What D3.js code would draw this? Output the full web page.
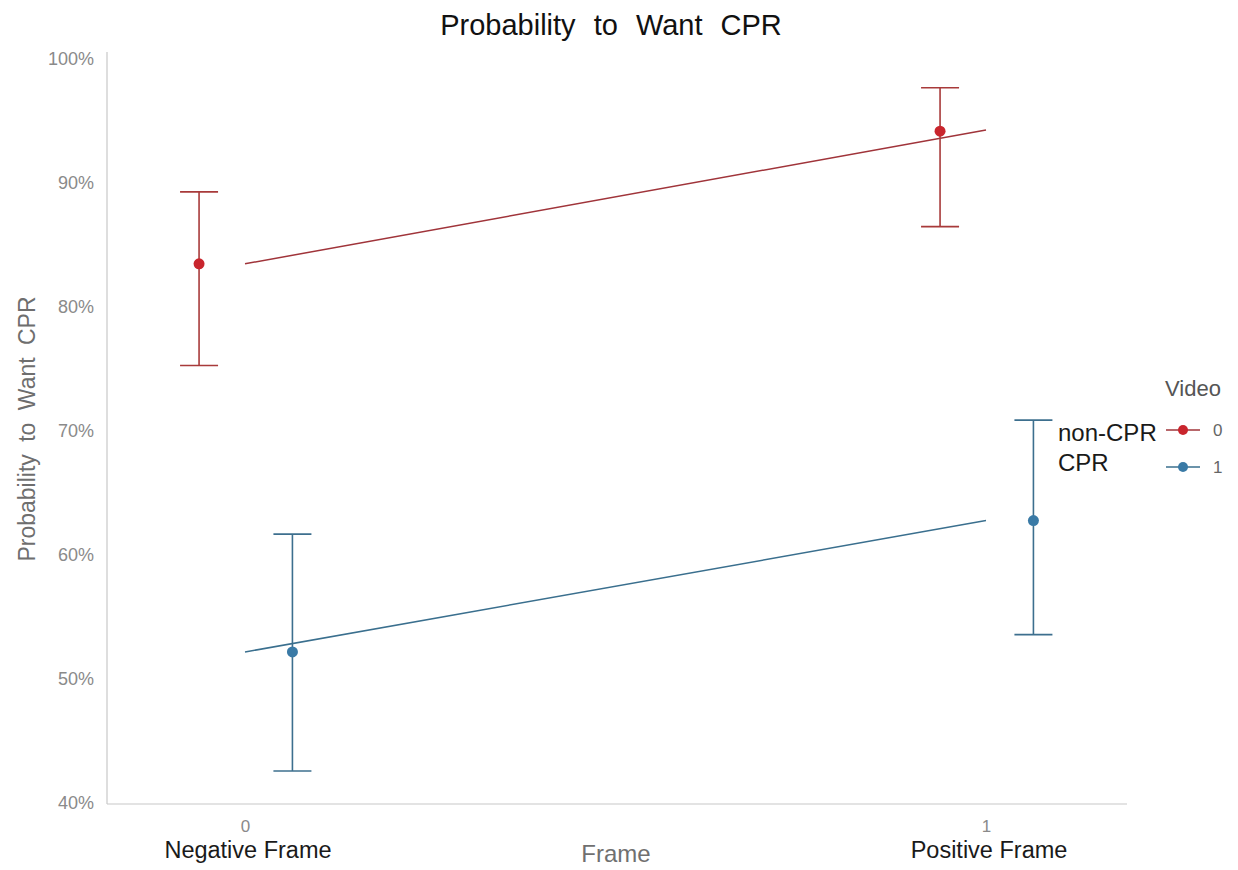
<!DOCTYPE html>
<html>
<head>
<meta charset="utf-8">
<script src="https://cdn.jsdelivr.net/npm/d3@7"></script>
<style>
  body { margin: 0; background: #fff; }
  text { font-family: "Liberation Sans", Arial, sans-serif; }
</style>
</head>
<body>
<svg id="chart" width="1238" height="870"></svg>
<script>
// ---- data ----
const frames = [0, 1];
const frameLabels = ["Negative Frame", "Positive Frame"];
const videos = ["0", "1"];
const videoLabels = ["non-CPR", "CPR"];
const estNonCPR = [0.834, 0.941];
const lowNonCPR = [0.752, 0.864];
const highNonCPR = [0.892, 0.976];
const estCPR = [0.521, 0.627];
const lowCPR = [0.425, 0.535];
const highCPR = [0.616, 0.708];
const lineNonCPR = [0.834, 0.942];
const lineCPR = [0.521, 0.627];
const yTicks = [0.4, 0.5, 0.6, 0.7, 0.8, 0.9, 1.0];

const series = [
  { key: videos[0], est: estNonCPR, lo: lowNonCPR, hi: highNonCPR, line: lineNonCPR, dodge: -0.062, pt: "#c9252d", bar: "#a83a3a", ln: "#a0343a" },
  { key: videos[1], est: estCPR, lo: lowCPR, hi: highCPR, line: lineCPR, dodge: 0.064, pt: "#3a7aa6", bar: "#3d6f8e", ln: "#3a6f8e" }
];

const svg = d3.select("#chart");
const x = d3.scaleLinear().domain([0, 1]).range([245, 986]);
const y = d3.scaleLinear().domain([0.4, 1.0]).range([802, 58]);

// axes lines
svg.append("line").attr("x1", 107).attr("x2", 107).attr("y1", 52).attr("y2", 804).attr("stroke", "#c8c8c8").attr("stroke-width", 1.2);
svg.append("line").attr("x1", 107).attr("x2", 1127).attr("y1", 804).attr("y2", 804).attr("stroke", "#c8c8c8").attr("stroke-width", 1.2);

// y ticks
const yAxis = d3.axisLeft(y).tickValues(yTicks).tickSize(0).tickPadding(0).tickFormat(d3.format(".0%"));
const gy = svg.append("g").attr("transform", "translate(94,0)").call(yAxis);
gy.select(".domain").remove();
gy.selectAll("text").attr("fill", "#8a8a8a").attr("font-size", 18).attr("dy", "0.35em").attr("x", 0)
  .style("font-family", "'Liberation Sans', Arial, sans-serif");

// x ticks
const xAxis = d3.axisBottom(x).tickValues(frames).tickSize(0).tickPadding(0).tickFormat(d3.format("d"));
const gx = svg.append("g").attr("transform", "translate(0,820)").call(xAxis);
gx.select(".domain").remove();
gx.selectAll("text").attr("fill", "#8a8a8a").attr("font-size", 17).attr("dy", "0.71em").attr("y", 0)
  .style("font-family", "'Liberation Sans', Arial, sans-serif");

// frame labels
svg.selectAll(".flab").data(frames).enter().append("text")
  .attr("x", d => x(d) + 3).attr("y", 858)
  .attr("text-anchor", "middle").attr("font-size", 23.5).attr("fill", "#1a1a1a")
  .text((d, i) => frameLabels[i]);

// axis titles
svg.append("text").attr("x", 616).attr("y", 862).attr("text-anchor", "middle").attr("font-size", 24).attr("fill", "#707070").text("Frame");
svg.append("text").attr("transform", "translate(35,429) rotate(-90)").attr("text-anchor", "middle").attr("font-size", 23).attr("fill", "#6e6e6e").attr("word-spacing", 6).text("Probability to Want CPR");

// title
svg.append("text").attr("x", 611).attr("y", 35).attr("text-anchor", "middle").attr("font-size", 29).attr("fill", "#111").attr("word-spacing", 10).text("Probability to Want CPR");

// series
series.forEach(s => {
  // fitted line
  svg.append("path")
    .datum(frames.map((f, i) => [f, s.line[i]]))
    .attr("d", d3.line().x(d => x(d[0])).y(d => y(d[1])))
    .attr("fill", "none").attr("stroke", s.ln).attr("stroke-width", 1.5);
  const g = svg.append("g");
  frames.forEach((f, i) => {
    const cx = x(f + s.dodge);
    g.append("line").attr("x1", cx).attr("x2", cx).attr("y1", y(s.lo[i])).attr("y2", y(s.hi[i])).attr("stroke", s.bar).attr("stroke-width", 1.6);
    g.append("line").attr("x1", cx - 19).attr("x2", cx + 19).attr("y1", y(s.lo[i])).attr("y2", y(s.lo[i])).attr("stroke", s.bar).attr("stroke-width", 1.6);
    g.append("line").attr("x1", cx - 19).attr("x2", cx + 19).attr("y1", y(s.hi[i])).attr("y2", y(s.hi[i])).attr("stroke", s.bar).attr("stroke-width", 1.6);
    g.append("circle").attr("cx", cx).attr("cy", y(s.est[i])).attr("r", 5.5).attr("fill", s.pt);
  });
});

// legend
svg.append("text").attr("x", 1165).attr("y", 396).attr("font-size", 22).attr("fill", "#555").text("Video");
series.forEach((s, i) => {
  const ly = 430 + i * 37;
  svg.append("line").attr("x1", 1166).attr("x2", 1200).attr("y1", ly).attr("y2", ly).attr("stroke", s.ln).attr("stroke-width", 1.6);
  svg.append("circle").attr("cx", 1183).attr("cy", ly).attr("r", 5).attr("fill", s.pt);
  svg.append("text").attr("x", 1213).attr("y", ly + 6).attr("font-size", 17).attr("fill", "#666").text(s.key);
});
videoLabels.forEach((t, i) => {
  svg.append("text").attr("x", 1058).attr("y", 441 + i * 30).attr("font-size", 24).attr("fill", "#1a1a1a").text(t);
});
</script>
</body>
</html>
